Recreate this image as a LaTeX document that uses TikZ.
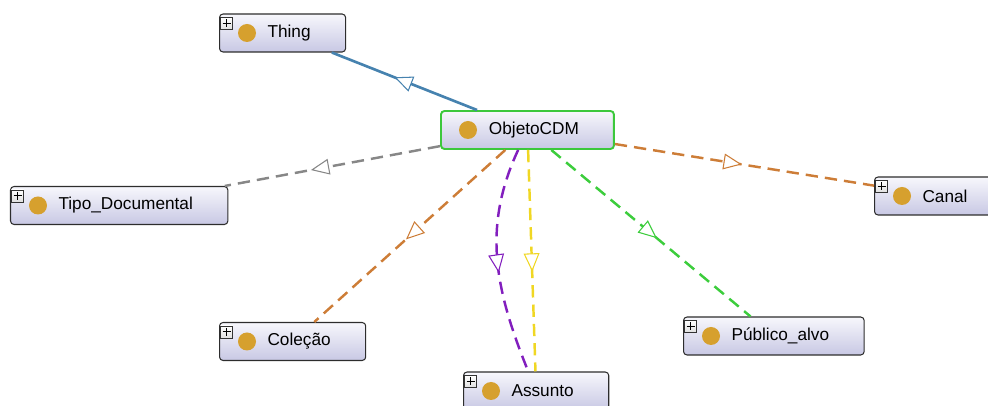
\documentclass[tikz,border=0pt]{standalone}
\usepackage{fontspec}
\setmainfont{Liberation Sans}
\usetikzlibrary{positioning,calc,arrows.meta,decorations.markings}
\definecolor{lavtop}{RGB}{247,247,252}
\definecolor{lavbot}{RGB}{200,200,228}
\definecolor{gold}{RGB}{214,160,46}
\definecolor{selgreen}{RGB}{60,200,60}
\definecolor{isablue}{RGB}{70,130,175}
\definecolor{relgray}{RGB}{135,135,135}
\definecolor{orng}{RGB}{205,125,55}
\definecolor{purp}{RGB}{130,30,190}
\definecolor{yell}{RGB}{240,215,35}
\definecolor{grn}{RGB}{60,205,60}
\tikzstyle{cls}=[draw=gray!35!black, line width=0.6pt, rounded corners=2pt, top color=lavtop, bottom color=lavbot, minimum height=0.76cm, inner xsep=0.7cm, anchor=west, font=\fontsize{9.8}{12}\selectfont, execute at begin node=\hspace*{0.26cm}]
\tikzstyle{sel}=[cls, draw=selgreen, line width=1.1pt]
\tikzstyle{isa}=[line width=1.5pt]
\tikzstyle{rel}=[line width=1.4pt, dash pattern=on 7pt off 4pt]
\tikzstyle{plusbox}=[draw=gray!40!black, line width=0.4pt, top color=white, bottom color=gray!25]
\tikzset{tri/.style={postaction={decorate,decoration={markings,mark=at position #1 with {\arrow{Triangle[open,fill=white,length=10.5pt,width=9pt,line width=0.6pt]}}}}}}

\begin{document}
\begin{tikzpicture}
\useasboundingbox (0,0) rectangle (19.76,-8.12);

\node[sel] (objeto) at (8.80,-2.60) {ObjetoCDM};
\node[cls] (thing) at (4.38,-0.66) {Thing};
\node[cls] (tipo) at (0.20,-4.11) {Tipo\_Documental};
\node[cls] (canal) at (17.48,-3.92) {Canal};
\node[cls] (colecao) at (4.38,-6.83) {Coleção};
\node[cls] (assunto) at (9.26,-7.82) {Assunto};
\node[cls] (publico) at (13.66,-6.72) {Público\_alvo};

% subclass and object property edges
\draw[isa, isablue, tri=0.57] (objeto) -- (thing);
\draw[rel, relgray, tri=0.6] (objeto) -- (tipo);
\draw[rel, orng, tri=0.49] (objeto) -- (canal);
\draw[rel, orng, tri=0.52] (objeto) -- (colecao);
\draw[rel, purp, tri=0.55] (objeto) to[out=245,in=112,looseness=1.0] (assunto);
\draw[rel, yell, tri=0.55] (objeto) -- (assunto);
\draw[rel, grn, tri=0.53] (objeto) -- (publico);

% icons
\foreach \n in {thing,tipo,canal,colecao,assunto,publico}{
  \draw[plusbox] ($(\n.north west)+(0.03,-0.08)$) rectangle +(0.24,-0.24);
  \draw[line width=0.6pt] ($(\n.north west)+(0.15,-0.12)$) -- +(0,-0.16)
    ($(\n.north west)+(0.07,-0.20)$) -- +(0.16,0);
}
\foreach \n in {objeto,thing,tipo,canal,colecao,assunto,publico}
  \fill[gold] ($(\n.west)+(0.56,0)$) circle (0.18);
\end{tikzpicture}
\end{document}
